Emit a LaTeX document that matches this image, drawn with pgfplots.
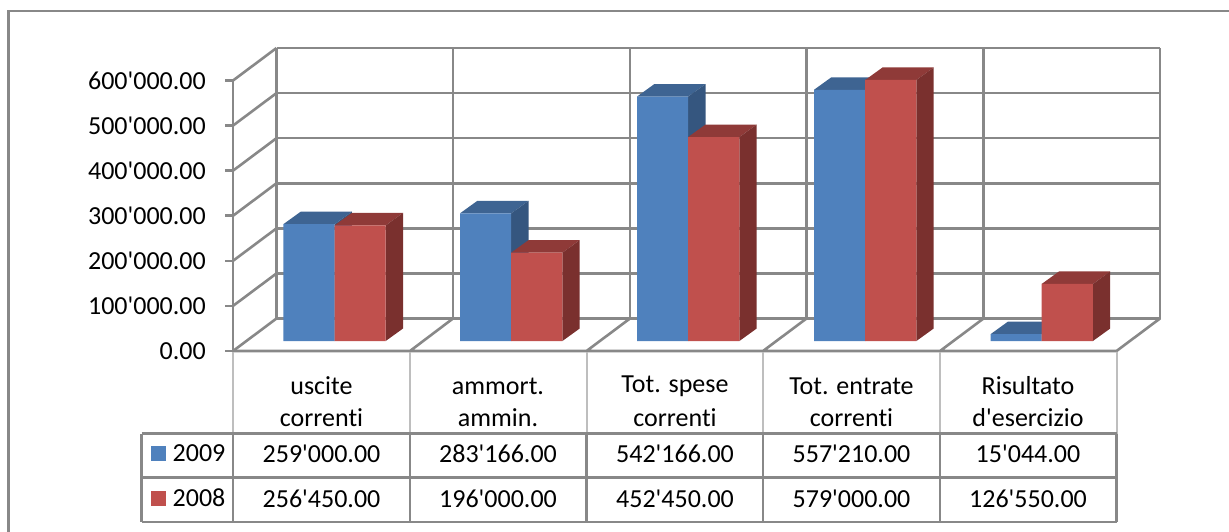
\documentclass[border=0pt]{standalone}
\usepackage{fontspec}
\setmainfont{Carlito}[Ligatures={TeXOff,NoCommon}]
\usepackage{pgfplots}
\pgfplotsset{compat=1.18}

\definecolor{linegray}{HTML}{888888}
\definecolor{headgray}{HTML}{BEBEBE}
\definecolor{bluefront}{HTML}{4F81BD}
\definecolor{bluetop}{HTML}{3E6492}
\definecolor{blueside}{HTML}{35567F}
\definecolor{redfront}{HTML}{C0504D}
\definecolor{redtop}{HTML}{8F3A38}
\definecolor{redside}{HTML}{7A302E}

% top and side face of a bar: left edge, value, colours
\newcommand{\barfaces}[4]{%
  \edef\temp{\noexpand\addplot[fill=#3,draw=none] coordinates {
    (#1,#2) (\fpeval{#1+51.2},#2) (\fpeval{#1+68.5},\fpeval{#2+27700}) (\fpeval{#1+17.3},\fpeval{#2+27700})} --cycle;
    \noexpand\addplot[fill=#4,draw=none] coordinates {
    (\fpeval{#1+51.2},0) (\fpeval{#1+68.5},27700) (\fpeval{#1+68.5},\fpeval{#2+27700}) (\fpeval{#1+51.2},#2)} --cycle;}%
  \temp}

\begin{document}
\begin{tikzpicture}
\useasboundingbox (0pt,-532pt) rectangle (1229pt,0pt);
\fontsize{26}{30}\selectfont

% walls, floor and value axis
\begin{axis}[
    at={(233pt,-351pt)},
    scale only axis,
    width=883pt,
    height=270.5pt,
    xmin=233, xmax=1116,
    ymin=0, ymax=600000,
    clip=false,
    axis x line=none,
    axis y line*=left,
    axis line style={draw=linegray,line width=2.8pt},
    ytick={0,100000,200000,300000,400000,500000,600000},
    tick align=outside,
    major tick length=8pt,
    tick style={draw=linegray,line width=2.6pt},
    yticklabel style={
        font=\fontsize{26}{30}\selectfont,
        inner sep=0pt,
        xshift=-19pt,
        /pgf/number format/.cd,
            assume math mode=true,
            fixed,
            fixed zerofill,
            precision=2,
            1000 sep={'},
    },
    scaled y ticks=false,
    unbounded coords=jump,
]
% back wall, horizontal
\addplot[linegray,line width=2.6pt] coordinates {
    (276.5,72089) (1160,72089) (1160,nan)
    (276.5,172089) (1160,172089) (1160,nan)
    (276.5,272089) (1160,272089) (1160,nan)
    (276.5,372089) (1160,372089) (1160,nan)
    (276.5,472089) (1160,472089) (1160,nan)
    (276.5,572089) (1160,572089) (1160,nan)
    (276.5,672089) (1160,672089)
};
% back wall, vertical
\addplot[linegray,line width=2.6pt] coordinates {
    (276.5,72089) (276.5,672089) (276.5,nan)
    (453,72089) (453,672089) (453,nan)
    (630,72089) (630,672089) (630,nan)
    (806.5,72089) (806.5,672089) (806.5,nan)
    (983.5,72089) (983.5,672089) (983.5,nan)
    (1160,72089) (1160,672089)
};
% side wall
\addplot[linegray,line width=2.6pt] coordinates {
    (233,0) (276.5,72089) (276.5,nan)
    (233,100000) (276.5,172089) (276.5,nan)
    (233,200000) (276.5,272089) (276.5,nan)
    (233,300000) (276.5,372089) (276.5,nan)
    (233,400000) (276.5,472089) (276.5,nan)
    (233,500000) (276.5,572089) (276.5,nan)
    (233,600000) (276.5,672089)
};
% floor
\addplot[linegray,line width=2.6pt] coordinates {
    (233,0) (1116.5,0) (1116.5,nan)
    (410,0) (453,72089) (453,nan)
    (586.5,0) (630,72089) (630,nan)
    (763,0) (806.5,72089) (806.5,nan)
    (940,0) (983.5,72089) (983.5,nan)
    (1116.5,0) (1160,72089)
};
\end{axis}

% bars, base 10 px behind the front edge
\begin{axis}[
    at={(233pt,-341pt)},
    scale only axis,
    width=883pt,
    height=270.5pt,
    xmin=233, xmax=1116,
    ymin=0, ymax=600000,
    clip=false,
    hide axis,
]
\barfaces{283.3}{259000}{bluetop}{blueside}
\barfaces{460}{283166}{bluetop}{blueside}
\barfaces{637}{542166}{bluetop}{blueside}
\barfaces{814}{557210}{bluetop}{blueside}
\barfaces{990.5}{15044}{bluetop}{blueside}
\addplot[ybar,bar width=51.2pt,fill=bluefront,draw=none] coordinates {
    (308.9,259000) (485.6,283166) (662.6,542166) (839.6,557210) (1016.1,15044)
};
\barfaces{334.5}{256450}{redtop}{redside}
\barfaces{511.2}{196000}{redtop}{redside}
\barfaces{688.2}{452450}{redtop}{redside}
\barfaces{865.2}{579000}{redtop}{redside}
\barfaces{1041.7}{126550}{redtop}{redside}
\addplot[ybar,bar width=51.2pt,fill=redfront,draw=none] coordinates {
    (360.1,256450) (536.8,196000) (713.8,452450) (890.8,579000) (1067.3,126550)
};
\end{axis}

\begin{scope}[x=1pt,y=-1pt]
% chart border, only top and left are in frame
\draw[linegray,line width=2.8pt] (8.5,532) -- (8.5,11) -- (1229,11);

% table lines
\foreach \x in {233,410,586.5,763,940,1116.5}
    \draw[headgray,line width=2pt] (\x,352) -- (\x,433.7);
\foreach \y in {433.7,477.7,522}
    \draw[linegray,line width=2.6pt] (141.5,\y) -- (1116.5,\y);
\foreach \x in {141.5,233,410,586.5,763,940,1116.5}
    \draw[linegray,line width=2.6pt] (\x,433.7) -- (\x,522);

% legend keys
\fill[bluefront] (151,446) rectangle (166,461);
\fill[redfront] (151,491) rectangle (166,506);
\node[inner sep=0pt] at (199,453) {2009};
\node[inner sep=0pt] at (199,498) {2008};

% category names
\node[inner sep=0pt] at (321.5,386) {uscite};
\node[inner sep=0pt] at (321.5,418) {correnti};
\node[inner sep=0pt] at (498,386) {ammort.};
\node[inner sep=0pt] at (498,418) {ammin.};
\node[inner sep=0pt] at (675,386) {Tot. spese};
\node[inner sep=0pt] at (675,418) {correnti};
\node[inner sep=0pt] at (851.5,386) {Tot. entrate};
\node[inner sep=0pt] at (851.5,418) {correnti};
\node[inner sep=0pt] at (1028,386) {Risultato};
\node[inner sep=0pt] at (1028,418) {d'esercizio};

% values
\node[inner sep=0pt] at (321.5,454) {259'000.00};
\node[inner sep=0pt] at (498,454) {283'166.00};
\node[inner sep=0pt] at (675,454) {542'166.00};
\node[inner sep=0pt] at (851.5,454) {557'210.00};
\node[inner sep=0pt] at (1028,454) {15'044.00};
\node[inner sep=0pt] at (321.5,499) {256'450.00};
\node[inner sep=0pt] at (498,499) {196'000.00};
\node[inner sep=0pt] at (675,499) {452'450.00};
\node[inner sep=0pt] at (851.5,499) {579'000.00};
\node[inner sep=0pt] at (1028,499) {126'550.00};
\end{scope}
\end{tikzpicture}
\end{document}
